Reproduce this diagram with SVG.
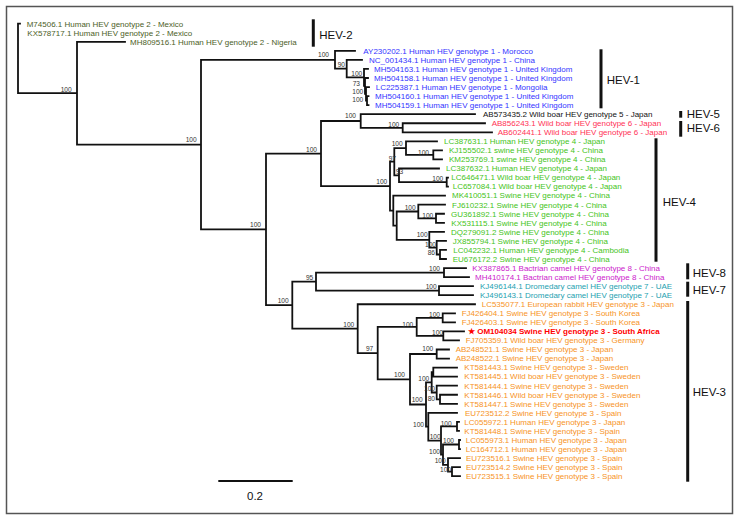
<svg xmlns="http://www.w3.org/2000/svg" width="739" height="519" viewBox="0 0 739 519">
<style>
.br{fill:none;stroke:#111;stroke-width:1.8;stroke-linecap:square}
.bs{font-family:"Liberation Sans",Arial,sans-serif;font-size:6.6px;fill:#333;text-anchor:end}
.lf{font-family:"Liberation Sans",Arial,sans-serif;font-size:8px}
.g2{fill:#4b5e27}.g1{fill:#3434ff}.g5{fill:#111}.g6{fill:#ff3355}.g4{fill:#44c41a}.g8{fill:#cc22cc}.g7{fill:#1e9fb0}.g3{fill:#f7931e}
.om{fill:#ff0000;font-weight:bold}
.cl{font-family:"Liberation Sans",Arial,sans-serif;font-size:11.5px;fill:#111}
.bar{stroke:#111;stroke-width:3}
</style>
<rect x="6.5" y="6.5" width="726" height="507" fill="#fff" stroke="#555" stroke-width="1.5"/>
<g id="connectors">
<path class="br" d="M18,23.7V93.2M18,23.7H20M18,93.2H77
M77,41.8V144.6M77,41.8H125M77,144.6H201
M201,59.8V229.4M201,59.8H335M201,229.4H266
M335,50.85V68.7M335,50.85H355M335,68.7H346.7
M346.7,59.9V77.4M346.7,59.9H362M346.7,77.4H364
M364,68.95V85.9M364,68.95H368M364,85.9H365
M365,78V93.8M365,78H368M365,93.8H366
M366,87.05V100.6M366,87.05H369M366,100.6H367
M367,96.1V105.15M367,96.1H368.5M367,105.15H368.5
M266,153.6V305.2M266,153.6H321M266,305.2H292.3
M321,121V186.2M321,121H360.7M321,186.2H390
M360.7,114.2V127.8M360.7,114.2H475M360.7,127.8H402.7
M402.7,123.25V132.3M402.7,123.25H485M402.7,132.3H492
M390,161.7V210.6M390,161.7H394.3M390,210.6H393.3
M394.3,148.1V175.3M394.3,148.1H406M394.3,175.3H399
M406,141.35V154.9M406,141.35H437M406,154.9H433.3
M433.3,150.4V159.45M433.3,150.4H442M433.3,159.45H442
M399,168.5V182.1M399,168.5H439M399,182.1H446.7
M446.7,177.55V186.6M446.7,177.55H448M446.7,186.6H448
M393.3,195.65V225.6M393.3,195.65H445M393.3,225.6H396.7
M396.7,211.5V239.8M396.7,211.5H418.3M396.7,239.8H429.3
M418.3,204.7V218.3M418.3,204.7H445M418.3,218.3H436
M436,213.75V222.8M436,213.75H444M436,222.8H444
M429.3,231.85V247.7M429.3,231.85H444M429.3,247.7H436.7
M436.7,240.9V254.5M436.7,240.9H446M436.7,254.5H440
M440,249.95V259M440,249.95H446M440,259H446
M292.3,281.6V328.7M292.3,281.6H316M292.3,328.7H357.7
M316,272.6V290.7M316,272.6H444M316,290.7H439
M444,268.05V277.1M444,268.05H466M444,277.1H469
M439,286.15V295.2M439,286.15H473M439,295.2H473
M357.7,304.25V353.1M357.7,304.25H475M357.7,353.1H377.7
M377.7,326.9V379.3M377.7,326.9H416.7M377.7,379.3H410
M416.7,317.8V335.9M416.7,317.8H442.7M416.7,335.9H443.3
M442.7,313.3V322.35M442.7,313.3H455M442.7,322.35H455
M443.3,331.4V340.45M443.3,331.4H464M443.3,340.45H459
M410,354V404.5M410,354H436.7M410,404.5H426
M436.7,349.5V358.55M436.7,349.5H449M436.7,358.55H449
M426,382.3V426.7M426,382.3H431.7M426,426.7H428.3
M431.7,372.1V392.5M431.7,372.1H433.3M431.7,392.5H436.7
M433.3,367.6V376.65M433.3,367.6H457M433.3,376.65H457
M436.7,385.7V399.3M436.7,385.7H457M436.7,399.3H440
M440,394.75V403.8M440,394.75H457M440,403.8H457
M428.3,412.85V440.6M428.3,412.85H457M428.3,440.6H441
M441,426.4V454.7M441,426.4H457M441,454.7H443
M457,421.9V430.95M457,421.9H459M457,430.95H459
M443,444.5V464.9M443,444.5H459M443,464.9H448
M459,440V449.05M459,440H460M459,449.05H460
M448,458.1V471.7M448,458.1H460M448,471.7H452
M452,467.15V476.2M452,467.15H460M452,476.2H460"/>
</g>
<g id="bootstrap">
<text class="bs" x="71.7" y="91.7">100</text>
<text class="bs" x="196.7" y="142">100</text>
<text class="bs" x="329" y="57.3">100</text>
<text class="bs" x="345" y="66.7">90</text>
<text class="bs" x="362.3" y="76">100</text>
<text class="bs" x="360" y="86">73</text>
<text class="bs" x="363.3" y="93.7">100</text>
<text class="bs" x="363.3" y="101.7">100</text>
<text class="bs" x="261" y="226.7">100</text>
<text class="bs" x="317" y="151.7">100</text>
<text class="bs" x="356" y="118.3">100</text>
<text class="bs" x="399.3" y="126.7">100</text>
<text class="bs" x="387.3" y="184">100</text>
<text class="bs" x="396" y="161">97</text>
<text class="bs" x="402.7" y="146">100</text>
<text class="bs" x="429" y="155">100</text>
<text class="bs" x="403.3" y="174">93</text>
<text class="bs" x="443.3" y="181">100</text>
<text class="bs" x="415.7" y="210">100</text>
<text class="bs" x="433.3" y="218.3">100</text>
<text class="bs" x="427.7" y="236.7">100</text>
<text class="bs" x="436" y="247.3">100</text>
<text class="bs" x="435" y="255">86</text>
<text class="bs" x="288.7" y="302.7">100</text>
<text class="bs" x="313.3" y="280">95</text>
<text class="bs" x="440" y="270.7">100</text>
<text class="bs" x="436.7" y="288.7">100</text>
<text class="bs" x="354.3" y="326.7">100</text>
<text class="bs" x="373.3" y="350.7">97</text>
<text class="bs" x="413.3" y="326.7">100</text>
<text class="bs" x="440" y="316.7">100</text>
<text class="bs" x="443" y="334.5">100</text>
<text class="bs" x="433.3" y="350.7">100</text>
<text class="bs" x="405" y="377.3">100</text>
<text class="bs" x="422.7" y="402.3">100</text>
<text class="bs" x="429.3" y="380.7">100</text>
<text class="bs" x="435" y="390.7">100</text>
<text class="bs" x="435" y="400.7">80</text>
<text class="bs" x="424" y="426.7">100</text>
<text class="bs" x="451.7" y="425.7">100</text>
<text class="bs" x="440.7" y="439">100</text>
<text class="bs" x="454" y="443.3">100</text>
<text class="bs" x="440" y="453.7">100</text>
<text class="bs" x="445.7" y="463.3">100</text>
<text class="bs" x="451" y="472.3">100</text>
</g>
<g id="hev2" class="lf g2">
<text x="26.7" y="26.5">M74506.1 Human HEV genotype 2 - Mexico</text>
<text x="27.3" y="35.5">KX578717.1 Human HEV genotype 2 - Mexico</text>
<text x="130" y="44.6">MH809516.1 Human HEV genotype 2 - Nigeria</text>
</g>
<g id="hev1" class="lf g1">
<text x="363.3" y="53.6">AY230202.1 Human HEV genotype 1 - Morocco</text>
<text x="369" y="62.7">NC_001434.1 Human HEV genotype 1 - China</text>
<text x="374" y="71.7">MH504163.1 Human HEV genotype 1 - United Kingdom</text>
<text x="374" y="80.8">MH504158.1 Human HEV genotype 1 - United Kingdom</text>
<text x="375.7" y="89.8">LC225387.1 Human HEV genotype 1 - Mongolia</text>
<text x="375" y="98.9">MH504160.1 Human HEV genotype 1 - United Kingdom</text>
<text x="375" y="107.9">MH504159.1 Human HEV genotype 1 - United Kingdom</text>
</g>
<g id="hev5" class="lf g5">
<text x="483" y="117">AB573435.2 Wild boar HEV genotype 5 - Japan</text>
</g>
<g id="hev6" class="lf g6">
<text x="491.7" y="126">AB856243.1 Wild boar HEV genotype 6 - Japan</text>
<text x="497.7" y="135.1">AB602441.1 Wild boar HEV genotype 6 - Japan</text>
</g>
<g id="hev4" class="lf g4">
<text x="444" y="144.1">LC387631.1 Human HEV genotype 4 - Japan</text>
<text x="449" y="153.2">KJ155502.1 swine HEV genotype 4 - China</text>
<text x="449" y="162.2">KM253769.1 swine HEV genotype 4 - China</text>
<text x="446" y="171.3">LC387632.1 Human HEV genotype 4 - Japan</text>
<text x="451.3" y="180.3">LC646471.1 Wild boar HEV genotype 4 - Japan</text>
<text x="452.7" y="189.4">LC657084.1 Wild boar HEV genotype 4 - Japan</text>
<text x="452" y="198.4">MK410051.1 Swine HEV genotype 4 - China</text>
<text x="452" y="207.5">FJ610232.1 Swine HEV genotype 4 - China</text>
<text x="451" y="216.5">GU361892.1 Swine HEV genotype 4 - China</text>
<text x="451.3" y="225.6">KX531115.1 Swine HEV genotype 4 - China</text>
<text x="451" y="234.6">DQ279091.2 Swine HEV genotype 4 - China</text>
<text x="452.7" y="243.7">JX855794.1 Swine HEV genotype 4 - China</text>
<text x="453.3" y="252.7">LC042232.1 Human HEV genotype 4 - Cambodia</text>
<text x="452.7" y="261.8">EU676172.2 Swine HEV genotype 4 - China</text>
</g>
<g id="hev8" class="lf g8">
<text x="472.3" y="270.8">KX387865.1 Bactrian camel HEV genotype 8 - China</text>
<text x="475" y="279.9">MH410174.1 Bactrian camel HEV genotype 8 - China</text>
</g>
<g id="hev7" class="lf g7">
<text x="480" y="288.9">KJ496144.1 Dromedary camel HEV genotype 7 - UAE</text>
<text x="480" y="298">KJ496143.1 Dromedary camel HEV genotype 7 - UAE</text>
</g>
<g id="hev3" class="lf g3">
<text x="481.7" y="307">LC535077.1 European rabbit HEV genotype 3 - Japan</text>
<text x="461.7" y="316.1">FJ426404.1 Swine HEV genotype 3 - South Korea</text>
<text x="461.7" y="325.1">FJ426403.1 Swine HEV genotype 3 - South Korea</text>
<text x="465.7" y="343.2">FJ705359.1 Wild boar HEV genotype 3 - Germany</text>
<text x="455.7" y="352.3">AB248521.1 Swine HEV genotype 3 - Japan</text>
<text x="455.7" y="361.3">AB248522.1 Swine HEV genotype 3 - Japan</text>
<text x="464.3" y="370.4">KT581443.1 Swine HEV genotype 3 - Sweden</text>
<text x="464.3" y="379.4">KT581445.1 Wild boar HEV genotype 3 - Sweden</text>
<text x="464.3" y="388.5">KT581444.1 Swine HEV genotype 3 - Sweden</text>
<text x="464.3" y="397.5">KT581446.1 Wild boar HEV genotype 3 - Sweden</text>
<text x="464.3" y="406.6">KT581447.1 Swine HEV genotype 3 - Sweden</text>
<text x="465" y="415.6">EU723512.2 Swine HEV genotype 3 - Spain</text>
<text x="464.3" y="424.7">LC055972.1 Human HEV genotype 3 - Japan</text>
<text x="464.3" y="433.7">KT581448.1 Swine HEV genotype 3 - Spain</text>
<text x="465.7" y="442.8">LC055973.1 Human HEV genotype 3 - Japan</text>
<text x="465.7" y="451.8">LC164712.1 Human HEV genotype 3 - Japan</text>
<text x="466" y="460.9">EU723516.1 Swine HEV genotype 3 - Spain</text>
<text x="466" y="469.9">EU723514.2 Swine HEV genotype 3 - Spain</text>
<text x="466" y="479">EU723515.1 Swine HEV genotype 3 - Spain</text>
</g>
<g id="om104034" class="lf om">
<text x="468" y="334.2">★ OM104034 Swine HEV genotype 3 - South Africa</text>
</g>
<g id="clades">
<line class="bar" x1="313.3" y1="19.3" x2="313.3" y2="46.7"/>
<text class="cl" x="319.3" y="38.8">HEV-2</text>
<line class="bar" x1="601" y1="49.3" x2="601" y2="108.3"/>
<text class="cl" x="606.7" y="84.1">HEV-1</text>
<line class="bar" x1="680.7" y1="111" x2="680.7" y2="117.7"/>
<text class="cl" x="686.7" y="118.1">HEV-5</text>
<line class="bar" x1="680.7" y1="121" x2="680.7" y2="136.7"/>
<text class="cl" x="686.7" y="132.4">HEV-6</text>
<line class="bar" x1="656" y1="138.3" x2="656" y2="261.7"/>
<text class="cl" x="662.7" y="205.8">HEV-4</text>
<line class="bar" x1="687.7" y1="263.3" x2="687.7" y2="279.3"/>
<text class="cl" x="692.7" y="276.8">HEV-8</text>
<line class="bar" x1="687.7" y1="281.7" x2="687.7" y2="296.7"/>
<text class="cl" x="692.7" y="294.1">HEV-7</text>
<line class="bar" x1="687.7" y1="301" x2="687.7" y2="481.7"/>
<text class="cl" x="692.7" y="395.8">HEV-3</text>
</g>
<g id="scale">
<line x1="218.3" y1="481" x2="292.7" y2="481" stroke="#111" stroke-width="2.2"/>
<text class="cl" x="255" y="499.8" text-anchor="middle">0.2</text>
</g>
</svg>
